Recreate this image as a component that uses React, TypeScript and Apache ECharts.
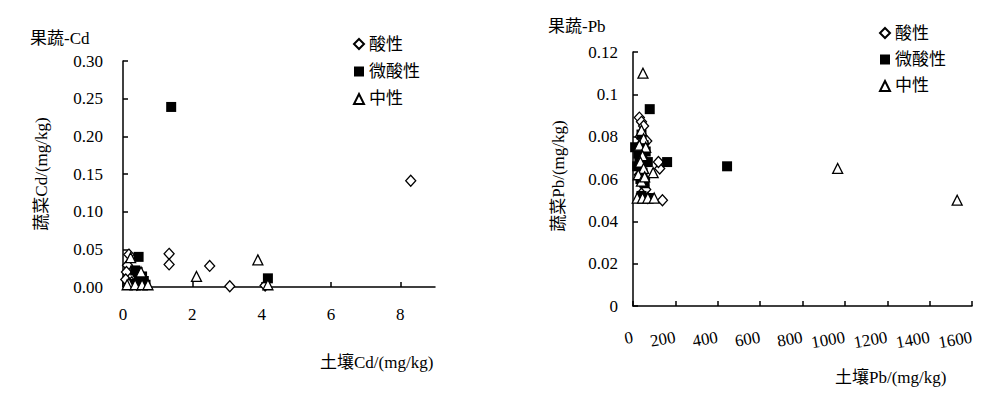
import React, { useEffect, useRef } from "react";
import * as echarts from "echarts";

const seriesNames = ["酸性", "微酸性", "中性"];

// 果蔬-Cd: [土壤Cd, 蔬菜Cd]
const cdAcid = [
  [0.17, 0.043], [0.13, 0.029], [0.1, 0.02], [0.08, 0.01], [0.25, 0.006], [0.4, 0.003],
  [1.33, 0.044], [1.33, 0.03], [2.5, 0.028], [3.08, 0.001], [4.1, 0.002], [8.3, 0.141],
];
const cdWeakAcid = [
  [1.39, 0.239], [4.18, 0.0115], [0.45, 0.04], [0.35, 0.022], [0.42, 0.02], [0.55, 0.014],
  [0.45, 0.009], [0.3, 0.004], [0.5, 0.003], [0.65, 0.003], [0.6, 0.008],
];
const cdNeutral = [
  [0.22, 0.039], [0.52, 0.02], [0.17, 0.005], [0.12, 0.003], [0.35, 0.003], [0.55, 0.003],
  [0.72, 0.003], [2.12, 0.014], [3.89, 0.036], [4.18, 0.003],
];

// 果蔬-Pb: [土壤Pb, 蔬菜Pb]
const pbAcid = [
  [30, 0.089], [40, 0.087], [50, 0.085], [35, 0.08], [25, 0.075], [45, 0.07], [30, 0.066],
  [55, 0.06], [50, 0.057], [60, 0.055], [40, 0.053], [70, 0.051], [30, 0.062], [65, 0.078],
  [126, 0.065], [120, 0.068], [139, 0.05],
];
const pbWeakAcid = [
  [79, 0.093], [161, 0.068], [444, 0.066], [10, 0.075], [40, 0.081], [50, 0.076], [60, 0.073],
  [30, 0.07], [20, 0.066], [45, 0.063], [35, 0.06], [55, 0.058], [40, 0.052], [60, 0.051],
  [80, 0.051], [25, 0.072], [70, 0.068],
];
const pbNeutral = [
  [47, 0.11], [95, 0.063], [966, 0.065], [1530, 0.05], [40, 0.083], [50, 0.079], [30, 0.076],
  [60, 0.075], [45, 0.071], [35, 0.068], [50, 0.065], [25, 0.062], [40, 0.059], [20, 0.051],
  [45, 0.051], [70, 0.051], [100, 0.051], [55, 0.061],
];

const cdXTicks = [0, 2, 4, 6, 8];

const FONT = "Liberation Serif, Times New Roman, Noto Sans CJK SC, serif";

export default function App() {
  const ref = useRef<HTMLDivElement>(null);
  useEffect(() => {
    const chart = echarts.init(ref.current!, null, { renderer: "svg" });
    const line = { color: "#000", width: 1.5 };
    const axisBase = {
      type: "value",
      splitLine: { show: false },
      axisLine: { show: true, onZero: false, lineStyle: line },
      axisTick: { show: true, inside: true, length: 5, lineStyle: line },
    };
    const labelBase = { color: "#000", fontSize: 17, fontFamily: FONT };
    const hollow = { color: "#fff", borderColor: "#000", borderWidth: 1.3, opacity: 1 };
    const filled = { color: "#000", borderColor: "#000", borderWidth: 0, opacity: 1 };
    const mk = (name: string, data: number[][], idx: number) => {
      const i = seriesNames.indexOf(name);
      return {
        type: "scatter",
        name,
        xAxisIndex: idx,
        yAxisIndex: idx,
        data,
        symbol: i === 0 ? "diamond" : i === 1 ? "rect" : "triangle",
        symbolSize: i === 0 ? [10, 11] : i === 1 ? 10 : [10, 10],
        itemStyle: i === 1 ? filled : hollow,
        z: 2 + i,
      };
    };
    const legendBase = {
      orient: "vertical",
      itemWidth: 10,
      itemHeight: 10,
      padding: 0,
      selectedMode: false,
      data: seriesNames,
      textStyle: { ...labelBase },
    };
    const txt = (text: string, x: number, y: number, rot = 0, align = "left") => ({
      type: "text",
      x,
      y,
      rotation: rot,
      style: {
        text,
        fill: "#000",
        fontSize: 17,
        fontFamily: FONT,
        align,
        verticalAlign: "middle",
      },
    });
    chart.setOption({
      animation: false,
      backgroundColor: "#fff",
      grid: [
        { left: 123, top: 61, width: 312, height: 226 },
        { left: 633, top: 52, width: 339, height: 254 },
      ],
      xAxis: [
        {
          ...axisBase,
          gridIndex: 0,
          min: 0,
          max: 9,
          axisTick: { ...axisBase.axisTick, customValues: cdXTicks },
          axisLabel: { ...labelBase, margin: 19, customValues: cdXTicks },
        },
        {
          ...axisBase,
          gridIndex: 1,
          min: 0,
          max: 1600,
          interval: 200,
          axisLabel: { ...labelBase, margin: 31, rotate: 10, formatter: (v: number) => String(v) },
        },
      ],
      yAxis: [
        {
          ...axisBase,
          gridIndex: 0,
          min: 0,
          max: 0.3,
          interval: 0.05,
          axisLabel: { ...labelBase, margin: 20, formatter: (v: number) => v.toFixed(2) },
        },
        {
          ...axisBase,
          gridIndex: 1,
          min: 0,
          max: 0.12,
          interval: 0.02,
          axisLabel: {
            ...labelBase,
            margin: 15,
            formatter: (v: number) => String(Number(v.toFixed(2))),
          },
        },
      ],
      legend: [
        { ...legendBase, left: 353, top: 35.5, itemGap: 10.5 },
        { ...legendBase, left: 879, top: 24.5, itemGap: 9.5 },
      ],
      graphic: [
        txt("果蔬-Cd", 30, 38),
        txt("果蔬-Pb", 548, 26),
        txt("土壤Cd/(mg/kg)", 320, 362),
        txt("土壤Pb/(mg/kg)", 835, 377),
        txt("蔬菜Cd/(mg/kg)", 41, 174, Math.PI / 2, "center"),
        txt("蔬菜Pb/(mg/kg)", 558, 176, Math.PI / 2, "center"),
      ],
      series: [
        mk("酸性", cdAcid, 0),
        mk("微酸性", cdWeakAcid, 0),
        mk("中性", cdNeutral, 0),
        mk("酸性", pbAcid, 1),
        mk("微酸性", pbWeakAcid, 1),
        mk("中性", pbNeutral, 1),
      ],
    });
    return () => chart.dispose();
  }, []);
  return (
    <div
      ref={ref}
      style={{ position: "fixed", left: 0, top: 0, width: 988, height: 393, background: "#fff" }}
    />
  );
}
